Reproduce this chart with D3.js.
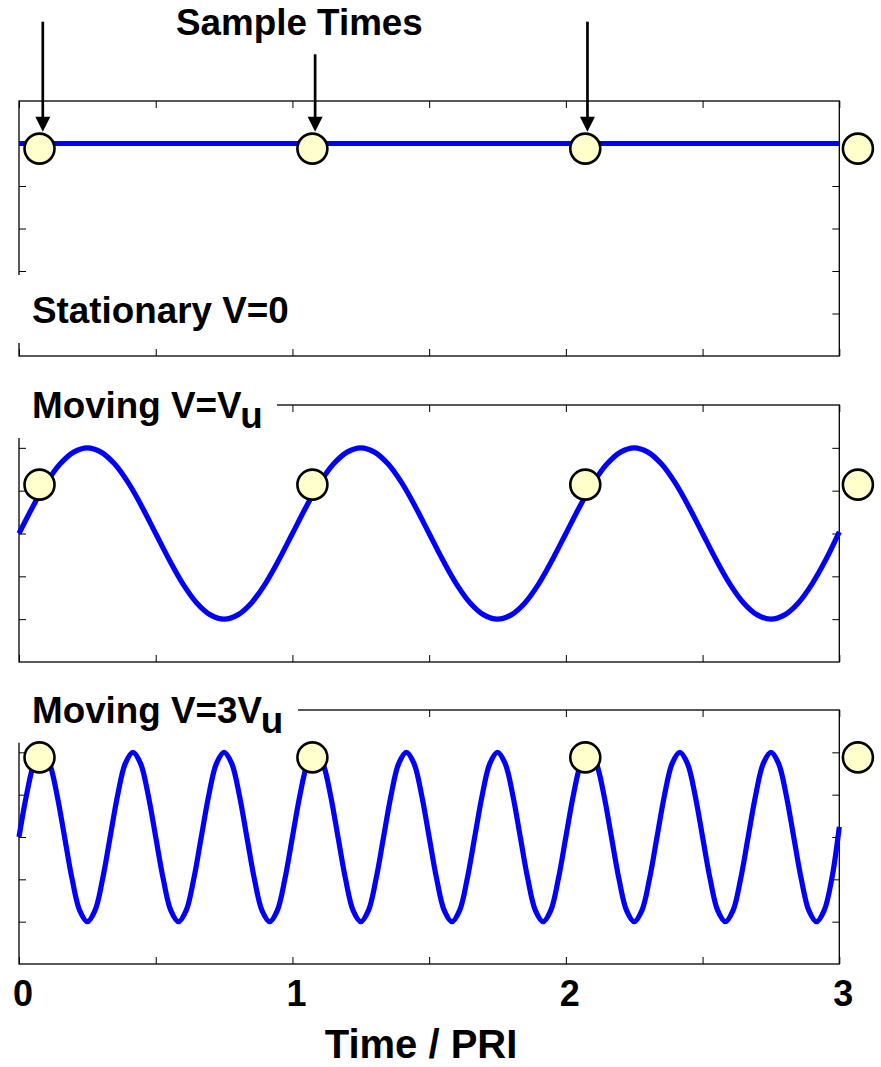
<!DOCTYPE html>
<html>
<head>
<meta charset="utf-8">
<script src="https://cdn.jsdelivr.net/npm/d3@7"></script>
<style>
  html, body { margin: 0; padding: 0; background: #fff; }
  svg { display: block; }
  text { font-family: "Liberation Sans", Arial, sans-serif; font-weight: bold; fill: #000; }
</style>
</head>
<body>
<svg id="chart" width="881" height="1067"></svg>
<script>
// ---------------- data ----------------
const xDomain = [0, 3];
const yDomain = [-1.5, 1.5];
const xTickValues = [0, 0.5, 1, 1.5, 2, 2.5, 3];
const xTickLabels = ["0", "", "1", "", "2", "", "3"];
const yTickValues = [-1, -0.5, 0, 0.5, 1];

const panelLabels = ["Stationary V=0", "Moving V=V", "Moving V=3V"];
const panelSubscripts = ["", "u", "u"];

// stationary echo (top panel)
const stationaryTimes = [0, 3];
const stationaryValues = [1, 1];

// V = Vu (middle panel), read every 0.05 PRI
const midStep = 0.05;
const midValues = [
  0, 0.31, 0.59, 0.81, 0.95, 1, 0.95, 0.81, 0.59, 0.31,
  0, -0.31, -0.59, -0.81, -0.95, -1, -0.95, -0.81, -0.59, -0.31,
  0, 0.31, 0.59, 0.81, 0.95, 1, 0.95, 0.81, 0.59, 0.31,
  0, -0.31, -0.59, -0.81, -0.95, -1, -0.95, -0.81, -0.59, -0.31,
  0, 0.31, 0.59, 0.81, 0.95, 1, 0.95, 0.81, 0.59, 0.31,
  0, -0.31, -0.59, -0.81, -0.95, -1, -0.95, -0.81, -0.59, -0.31,
  0.02
];

// V = 3Vu (bottom panel), read every 1/36 PRI
const botStep = 1 / 36;
const botValues = [
  0, 0.5, 0.87, 1, 0.87, 0.5, 0, -0.5, -0.87, -1, -0.87, -0.5,
  0, 0.5, 0.87, 1, 0.87, 0.5, 0, -0.5, -0.87, -1, -0.87, -0.5,
  0, 0.5, 0.87, 1, 0.87, 0.5, 0, -0.5, -0.87, -1, -0.87, -0.5,
  0, 0.5, 0.87, 1, 0.87, 0.5, 0, -0.5, -0.87, -1, -0.87, -0.5,
  0, 0.5, 0.87, 1, 0.87, 0.5, 0, -0.5, -0.87, -1, -0.87, -0.5,
  0, 0.5, 0.87, 1, 0.87, 0.5, 0, -0.5, -0.87, -1, -0.87, -0.5,
  0, 0.5, 0.87, 1, 0.87, 0.5, 0, -0.5, -0.87, -1, -0.87, -0.5,
  0, 0.5, 0.87, 1, 0.87, 0.5, 0, -0.5, -0.87, -1, -0.87, -0.5,
  0, 0.5, 0.87, 1, 0.87, 0.5, 0, -0.5, -0.87, -1, -0.87, -0.5,
  0.12
];

// sample markers
const sampleTimes = [0.075, 1.073, 2.071, 3.068];
const sampleTop = [0.94, 0.94, 0.94, 0.94];
const sampleMid = [0.57, 0.57, 0.57, 0.57];
const sampleBot = [0.94, 0.94, 0.94, 0.94];

// arrows marking the sample times
const arrowTimes = [0.087, 1.083, 2.079];
const arrowStartY = [21.7, 54.3, 21.7];

const annotationTitle = "Sample Times";
const xAxisTitle = "Time / PRI";

// ---------------- layout ----------------
const svg = d3.select("#chart");
const left = 19, right = 839.3;
const panels = [
  { top: 101, bottom: 356, times: stationaryTimes, values: stationaryValues, samples: sampleTop,
    box: { x: 0, y: 275, w: 300, h: 68 }, labelY: 322.7 },
  { top: 405, bottom: 662, times: midValues.map((d, i) => i * midStep), values: midValues, samples: sampleMid,
    box: { x: 0, y: 378, w: 277, h: 60 }, labelY: 418.3 },
  { top: 710, bottom: 964, times: botValues.map((d, i) => i * botStep), values: botValues, samples: sampleBot,
    box: { x: 0, y: 683, w: 298, h: 59.7 }, labelY: 722.7 }
];

const x = d3.scaleLinear().domain(xDomain).range([left, right]);
const tickLen = 7;

panels.forEach((p, pi) => {
  const y = d3.scaleLinear().domain(yDomain).range([p.bottom, p.top]);
  const g = svg.append("g");

  // frame
  g.append("rect")
    .attr("x", left).attr("y", p.top)
    .attr("width", right - left).attr("height", p.bottom - p.top)
    .attr("fill", "none").attr("stroke", "#000").attr("stroke-width", 1.3);

  // inward ticks via d3 axes
  const axBottom = d3.axisTop(x).tickValues(xTickValues).tickSize(tickLen).tickFormat("");
  const axTop = d3.axisBottom(x).tickValues(xTickValues).tickSize(tickLen).tickFormat("");
  const axLeft = d3.axisRight(y).tickValues(yTickValues).tickSize(tickLen).tickFormat("");
  const axRight = d3.axisLeft(y).tickValues(yTickValues).tickSize(tickLen).tickFormat("");
  [[axBottom, `translate(0,${p.bottom})`], [axTop, `translate(0,${p.top})`],
   [axLeft, `translate(${left},0)`], [axRight, `translate(${right},0)`]].forEach(([ax, tr]) => {
    const a = g.append("g").attr("transform", tr).call(ax);
    a.select(".domain").remove();
    a.selectAll("line").attr("stroke", "#000").attr("stroke-width", 1);
  });

  // curve
  const pts = p.values.map((v, i) => [p.times[i], v]);
  const line = d3.line().x(d => x(d[0])).y(d => y(d[1])).curve(d3.curveCatmullRom.alpha(0.5));
  g.append("path").datum(pts).attr("d", line)
    .attr("fill", "none").attr("stroke", "#0000ff").attr("stroke-width", 5.2)
    .attr("stroke-linejoin", "round").attr("stroke-linecap", "butt");

  // label box + label
  g.append("rect").attr("x", p.box.x).attr("y", p.box.y)
    .attr("width", p.box.w).attr("height", p.box.h).attr("fill", "#fff");
  const t = g.append("text").attr("x", 32).attr("y", p.labelY)
    .attr("font-size", 36.8).text(panelLabels[pi]);
  if (panelSubscripts[pi]) {
    t.append("tspan").attr("dy", 10).text(panelSubscripts[pi]);
  }

  // sample circles
  g.selectAll("circle").data(sampleTimes).join("circle")
    .attr("cx", d => x(d)).attr("cy", (d, i) => y(p.samples[i]))
    .attr("r", 15).attr("fill", "#ffffcc").attr("stroke", "#000").attr("stroke-width", 2.6);

  // tick labels under the last panel
  if (pi === panels.length - 1) {
    svg.append("g").selectAll("text").data(xTickValues).join("text")
      .attr("x", d => x(d) + 4).attr("y", 1006)
      .attr("text-anchor", "middle").attr("font-size", 36)
      .text((d, i) => xTickLabels[i]);
  }
});

// arrows
const arrowTip = 131.7, headLen = 15, headHalf = 7.5;
const ag = svg.append("g");
arrowTimes.forEach((t, i) => {
  const ax = x(t);
  ag.append("line").attr("x1", ax).attr("x2", ax)
    .attr("y1", arrowStartY[i]).attr("y2", arrowTip - headLen + 1)
    .attr("stroke", "#000").attr("stroke-width", 2.7);
  ag.append("path")
    .attr("d", `M${ax - headHalf},${arrowTip - headLen}L${ax + headHalf},${arrowTip - headLen}L${ax},${arrowTip}Z`)
    .attr("fill", "#000");
});

svg.append("text").attr("x", 176).attr("y", 35).attr("font-size", 36.8).text(annotationTitle);
svg.append("text").attr("x", 421).attr("y", 1058).attr("text-anchor", "middle")
  .attr("font-size", 40).text(xAxisTitle);
</script>
</body>
</html>
